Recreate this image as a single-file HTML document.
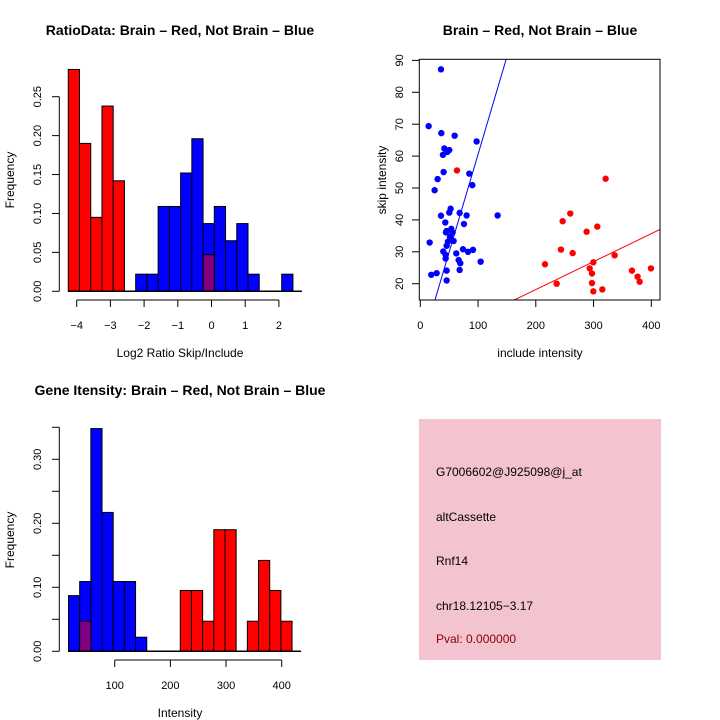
<!DOCTYPE html>
<html><head><meta charset="utf-8"><style>
body{margin:0;background:#fff}
svg{display:block;font-family:"Liberation Sans",sans-serif}
</style></head><body>
<svg id="s" width="720" height="720" viewBox="0 0 720 720" xmlns="http://www.w3.org/2000/svg"></svg>
<script>
// ---- Ratio histogram data ----
const ratioBinStart = -4.25;
const ratioBinWidth = 1/3;
const ratioRed = [0.285,0.19,0.095,0.238,0.142,0,0,0,0,0,0,0,0.047,0,0,0,0,0,0,0];
const ratioBlue = [0,0,0,0,0,0,0.022,0.022,0.109,0.109,0.152,0.196,0.087,0.109,0.065,0.087,0.022,0,0,0.022];
const ratioXTicks = [-4,-3,-2,-1,0,1,2];
const ratioYTicks = [0,0.05,0.10,0.15,0.20,0.25];
// ---- Intensity histogram data ----
const intBinStart = 17;
const intBinWidth = 20.08;
const intBlue = [0.087,0.109,0.348,0.217,0.109,0.109,0.022,0,0,0,0,0,0,0,0,0,0,0,0,0];
const intRed = [0,0.047,0,0,0,0,0,0,0,0,0.095,0.095,0.047,0.19,0.19,0,0.047,0.142,0.095,0.047];
const intXTicks = [100,200,300,400];
const intYTicks = [0,0.05,0.10,0.15,0.20,0.25,0.30,0.35];
const intYLabels = ["0.00","","0.10","","0.20","","0.30",""];
// ---- Scatter data ----
const blueInclude = [35.8,14.4,36.4,59.5,97.5,41.6,50.2,46.8,39.2,40.4,30.0,24.8,84.8,90.0,52.5,50.2,35.8,68.1,80.2,133.9,43.3,75.6,53.7,45.6,44.4,55.9,51.3,57.7,47.9,16.2,45.6,62.3,39.8,73.9,91.2,82.7,43.9,43.9,66.4,69.3,104.5,68.1,45.6,28.3,19.0,45.6];
const blueSkip = [87.2,69.4,67.2,66.4,64.6,62.4,61.9,61.3,60.4,55.0,52.8,49.3,54.5,50.9,43.5,42.3,41.3,42.2,41.4,41.4,39.2,38.7,37.2,36.5,36.1,36.0,34.7,33.4,33.2,32.9,31.9,29.5,30.1,30.8,30.6,30.0,29.0,27.9,27.4,26.4,26.9,24.3,24.1,23.3,22.8,21.0];
const redInclude = [63.5,320.9,259.7,246.5,306.5,288.0,243.6,263.8,336.5,215.9,299.6,293.3,297.3,366.5,399.4,376.3,379.8,297.3,236.1,299.6,315.2];
const redSkip = [55.5,52.9,42.0,39.6,37.9,36.3,30.7,29.6,28.9,26.1,26.7,24.8,23.2,24.1,24.8,22.2,20.6,20.2,20.0,17.6,18.2];
const blueFit = [-0.65,0.612];
const redFit = [0.64,0.0876];
const scXTicks = [0,100,200,300,400];
const scYTicks = [20,30,40,50,60,70,80,90];

const S=document.getElementById('s');
const NS='http://www.w3.org/2000/svg';
function mk(tag,attrs,parent,text){const e=document.createElementNS(NS,tag);for(const k in attrs)e.setAttribute(k,attrs[k]);if(text!==undefined)e.textContent=text;(parent||S).appendChild(e);return e;}
function txt(x,y,t,opt,name){const e=mk('text',Object.assign({x:x,y:y,'font-size':12,'text-anchor':'middle',fill:'#000'},opt||{}),S,t);


return e;}

// ===== Panel 1: ratio histogram =====
const r_x=v=>76.7+(v+4)*33.7;
const r_y=v=>291.3-v*778.4;
txt(180,35,'RatioData: Brain \u2013 Red, Not Brain \u2013 Blue',{'font-size':14,'font-weight':'bold'},'ratio-title');
txt(180,357,'Log2 Ratio Skip/Include',{},'ratio-x-title');
txt(14,180,'Frequency',{transform:'rotate(-90 14 180)'},'ratio-y-title');
function hist(blue,red,start,w,fx,fy,pfx){
  for(let i=0;i<blue.length;i++){
    const x0=fx(start+i*w),x1=fx(start+(i+1)*w);
    if(blue[i]>0){const b=mk('rect',{x:x0,y:fy(blue[i]),width:x1-x0,height:fy(0)-fy(blue[i]),fill:'#0000ff',stroke:'#000','stroke-width':1});
      
      }
  }
  for(let i=0;i<red.length;i++){
    const x0=fx(start+i*w),x1=fx(start+(i+1)*w);
    if(red[i]>0){const over=blue[i]>0;
      const b=mk('rect',{x:x0,y:fy(red[i]),width:x1-x0,height:fy(0)-fy(red[i]),fill:over?'#800080':'#ff0000',stroke:'#000','stroke-width':1});
      
      }
  }
  const n=blue.length;
  mk('line',{x1:fx(start),x2:fx(start+n*w)+9,y1:fy(0),y2:fy(0),stroke:'#000','stroke-width':1.5});
}
hist(ratioBlue,ratioRed,ratioBinStart,ratioBinWidth,r_x,r_y,'ratio');
mk('line',{x1:59.3,x2:59.3,y1:r_y(0),y2:r_y(0.25),stroke:'#000'});
ratioYTicks.forEach(v=>{mk('line',{x1:52,x2:59.3,y1:r_y(v),y2:r_y(v),stroke:'#000'});
  txt(41,r_y(v),v.toFixed(2),{transform:`rotate(-90 41 ${r_y(v)})`,'font-size':11},'ratio-y-tick-label');});
mk('line',{x1:r_x(-4),x2:r_x(2),y1:300,y2:300,stroke:'#000'});
ratioXTicks.forEach(v=>{mk('line',{x1:r_x(v),x2:r_x(v),y1:300,y2:307,stroke:'#000'});
  txt(r_x(v),329,v<0?'\u2212'+(-v):String(v),{'font-size':11},'ratio-x-tick-label');});

// ===== Panel 2: scatter =====
const s_x=v=>420.3+v*0.5775;
const s_y=v=>283.7-(v-20)*3.19;
txt(540,35,'Brain \u2013 Red, Not Brain \u2013 Blue',{'font-size':14,'font-weight':'bold'},'scatter-title');
txt(540,357,'include intensity',{},'scatter-x-title');
txt(386,180,'skip intensity',{transform:'rotate(-90 386 180)'},'scatter-y-title');
const cp=mk('clipPath',{id:'cp'});mk('rect',{x:419.3,y:59.3,width:240.7,height:240.7},cp);
const g=mk('g',{'clip-path':'url(#cp)'});
[[blueFit,'#0000ff','blue-fit-line'],[redFit,'#ff0000','red-fit-line']].forEach(([f,c,n])=>{
  const l=mk('line',{x1:s_x(-10),y1:s_y(f[0]+f[1]*-10),x2:s_x(450),y2:s_y(f[0]+f[1]*450),stroke:c,'stroke-width':1},g);
  
  });
blueInclude.forEach((v,i)=>{const c=mk('circle',{cx:s_x(v),cy:s_y(blueSkip[i]),r:3.2,fill:'#0000ff'},g);
  
  });
redInclude.forEach((v,i)=>{const c=mk('circle',{cx:s_x(v),cy:s_y(redSkip[i]),r:3.2,fill:'#ff0000'},g);
  
  });
mk('rect',{x:419.3,y:59.3,width:240.7,height:240.7,fill:'none',stroke:'#000'});
scXTicks.forEach(v=>{mk('line',{x1:s_x(v),x2:s_x(v),y1:300,y2:307,stroke:'#000'});
  txt(s_x(v),329,String(v),{'font-size':11},'scatter-x-tick-label');});
scYTicks.forEach(v=>{mk('line',{x1:412,x2:419.3,y1:s_y(v),y2:s_y(v),stroke:'#000'});
  txt(403,s_y(v),String(v),{transform:`rotate(-90 403 ${s_y(v)})`,'font-size':11},'scatter-y-tick-label');});

// ===== Panel 3: intensity histogram =====
const i_x=v=>114.7+(v-100)*0.5567;
const i_y=v=>651.3-v*640;
txt(180,395,'Gene Itensity: Brain \u2013 Red, Not Brain \u2013 Blue',{'font-size':14,'font-weight':'bold'},'intensity-title');
txt(180,717,'Intensity',{},'intensity-x-title');
txt(14,540,'Frequency',{transform:'rotate(-90 14 540)'},'intensity-y-title');
hist(intBlue,intRed,intBinStart,intBinWidth,i_x,i_y,'intensity');
mk('line',{x1:59.3,x2:59.3,y1:i_y(0),y2:i_y(0.35),stroke:'#000'});
intYTicks.forEach((v,k)=>{mk('line',{x1:52,x2:59.3,y1:i_y(v),y2:i_y(v),stroke:'#000'});
  if(intYLabels[k])txt(41,i_y(v),intYLabels[k],{transform:`rotate(-90 41 ${i_y(v)})`,'font-size':11},'intensity-y-tick-label');});
mk('line',{x1:i_x(100),x2:i_x(400),y1:660,y2:660,stroke:'#000'});
intXTicks.forEach(v=>{mk('line',{x1:i_x(v),x2:i_x(v),y1:660,y2:667,stroke:'#000'});
  txt(i_x(v),689,String(v),{'font-size':11},'intensity-x-tick-label');});

// ===== Panel 4: info box =====
const box=mk('rect',{x:419,y:419,width:242,height:241,fill:'#f3c3cf'});


const info=['G7006602@J925098@j_at','altCassette','Rnf14','chr18.12105\u22123.17'];
const infoY=[476,521,565,610];
info.forEach((t,k)=>txt(436,infoY[k],t,{'text-anchor':'start'},'info-line'));
txt(436,643,'Pval: 0.000000',{'text-anchor':'start',fill:'#8b0000'},'pval-text');
</script>
</body></html>
